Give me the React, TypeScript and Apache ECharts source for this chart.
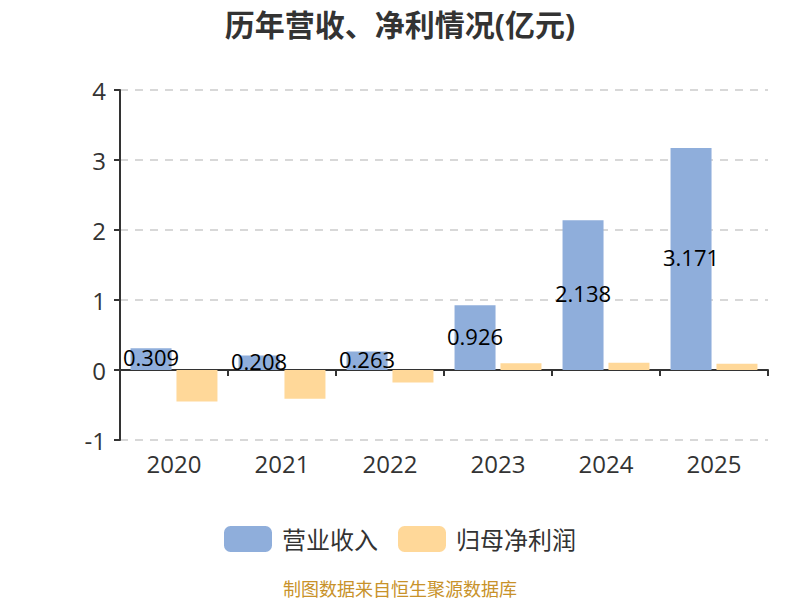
import React, { useEffect, useRef } from "react";
import * as echarts from "echarts";

const categories = ["2020", "2021", "2022", "2023", "2024", "2025"];
const revenue = [0.309, 0.208, 0.263, 0.926, 2.138, 3.171];
const netProfit = [-0.45, -0.41, -0.18, 0.095, 0.105, 0.09];
const seriesNames = ["营业收入", "归母净利润"];
const titleText = "历年营收、净利情况(亿元)";
const footerText = "制图数据来自恒生聚源数据库";

const FONT = "'Open Sans', 'Noto Sans CJK SC', sans-serif";

export default function App() {
  const ref = useRef<HTMLDivElement>(null);
  useEffect(() => {
    if (!ref.current) return;
    const chart = echarts.init(ref.current, null, { renderer: "svg" });
    chart.setOption({
      animation: false,
      textStyle: { fontFamily: FONT },
      title: {
        text: titleText,
        left: "center",
        top: 4,
        textStyle: { fontSize: 30, fontWeight: "bold", color: "#333", fontFamily: FONT },
      },
      legend: {
        data: seriesNames,
        top: 521,
        left: "center",
        itemWidth: 48,
        itemHeight: 26,
        itemGap: 20,
        icon: "roundRect",
        textStyle: { fontSize: 24, color: "#333", fontFamily: FONT, padding: [0, 0, 0, 5] },
      },
      graphic: [
        {
          type: "text",
          x: 400,
          y: 589,
          style: {
            text: footerText,
            fill: "#C8922A",
            fontSize: 18,
            fontFamily: FONT,
            align: "center",
            verticalAlign: "middle",
          },
        },
      ],
      grid: { left: 120, right: 32, top: 90, bottom: 160, containLabel: false },
      xAxis: [
        {
          type: "category",
          data: categories,
          position: "bottom",
          axisLine: { show: false, onZero: false },
          axisTick: { show: false },
          axisLabel: { fontSize: 24, color: "#333", margin: 11 },
        },
        {
          type: "category",
          data: categories,
          position: "top",
          axisLine: { show: true, onZero: true, lineStyle: { color: "#333", width: 2 } },
          axisTick: { show: true, inside: true, length: 6, lineStyle: { color: "#333", width: 2 } },
          axisLabel: { show: false },
        },
      ],
      yAxis: {
        type: "value",
        min: -1,
        max: 4,
        interval: 1,
        axisLine: { show: true, lineStyle: { color: "#333", width: 2 } },
        axisTick: { show: true, length: 6, lineStyle: { color: "#333", width: 2 } },
        axisLabel: { fontSize: 24, color: "#333", margin: 14 },
        splitLine: { show: true, lineStyle: { type: [8, 7], color: "#ccc", width: 1.5 } },
      },
      series: [
        {
          name: seriesNames[0],
          type: "bar",
          data: revenue,
          barWidth: 41,
          barGap: "12%",
          itemStyle: { color: "#8FAEDB" },
          label: {
            show: true,
            position: "inside",
            color: "#000",
            fontSize: 22,
            fontFamily: FONT,
            offset: [0, -2],
          },
        },
        {
          name: seriesNames[1],
          type: "bar",
          data: netProfit,
          barWidth: 41,
          barGap: "12%",
          itemStyle: { color: "#FFD899" },
        },
      ],
    });
    return () => chart.dispose();
  }, []);
  return (
    <div
      ref={ref}
      style={{ position: "absolute", left: 0, top: 0, width: 800, height: 600 }}
    />
  );
}
